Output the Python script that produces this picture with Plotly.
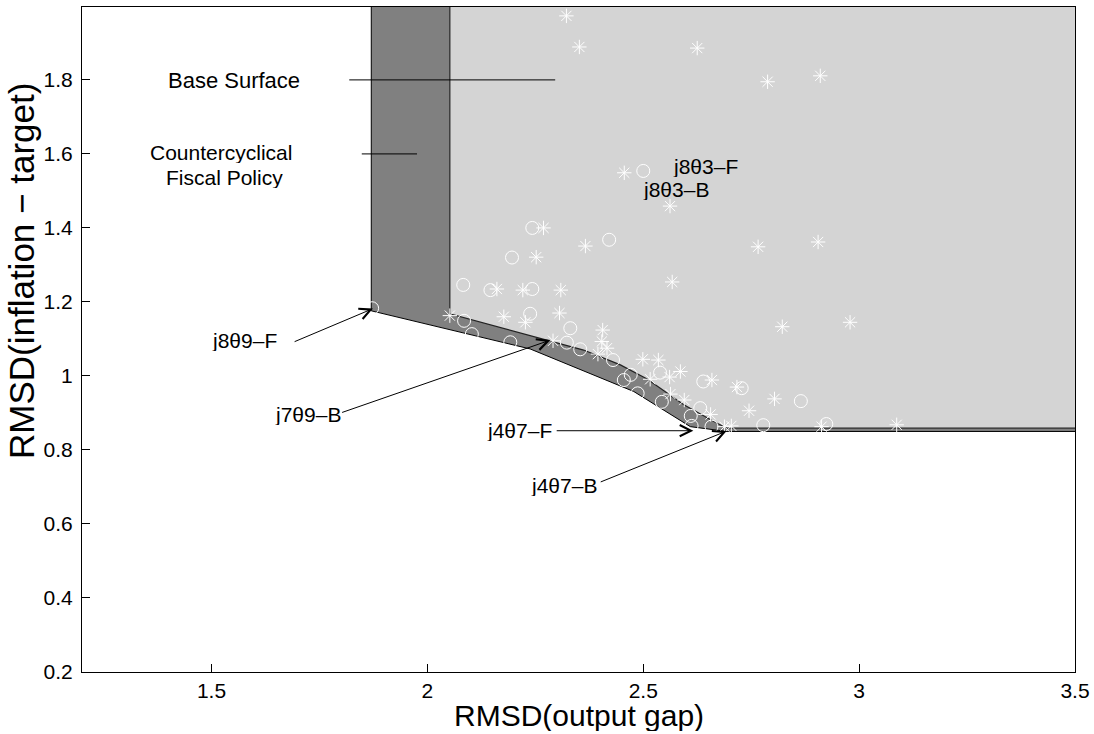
import plotly.graph_objects as go

# ---------------- data ----------------
x_range = [1.2, 3.5]
y_range = [0.2, 1.997]
x_ticks = [1.5, 2, 2.5, 3, 3.5]
x_ticktext = ["1.5", "2", "2.5", "3", "3.5"]
y_ticks = [0.2, 0.4, 0.6, 0.8, 1.0, 1.2, 1.4, 1.6, 1.8]
y_ticktext = ["0.2", "0.4", "0.6", "0.8", "1", "1.2", "1.4", "1.6", "1.8"]
x_title = "RMSD(output gap)"
y_title = "RMSD(inflation − target)"

# frontier with countercyclical fiscal policy (outer, dark region lower edge)
outer_x = [1.870, 1.870, 2.238, 2.478, 2.609, 2.694, 3.6]
outer_y = [2.1, 1.176, 1.073, 0.958, 0.863, 0.850, 0.850]
# base surface frontier (inner, light region lower edge)
inner_x = [2.052, 2.052, 2.362, 2.447, 2.509, 2.594, 2.671, 2.694, 3.6]
inner_y = [2.1, 1.168, 1.070, 1.030, 0.992, 0.922, 0.872, 0.859, 0.859]
top_y = 2.1
right_x = 3.6

circle_x = [2.500, 2.243, 2.421, 2.196, 2.083, 2.146, 2.243, 2.085, 2.238, 2.103,
            2.192, 1.872, 2.331, 2.323, 2.354, 2.430, 2.455, 2.539, 2.471, 2.639,
            2.487, 2.543, 2.632, 2.610, 2.658, 2.728, 2.865, 2.612, 2.778, 2.924]
circle_y = [1.554, 1.400, 1.368, 1.320, 1.246, 1.232, 1.235, 1.149, 1.168, 1.113,
            1.091, 1.183, 1.129, 1.090, 1.072, 1.043, 0.989, 1.009, 1.003, 0.985,
            0.953, 0.930, 0.913, 0.892, 0.863, 0.967, 0.932, 0.865, 0.867, 0.870]

star_x = [2.322, 2.352, 2.625, 2.456, 2.562, 2.269, 2.366, 2.788, 2.910, 2.766,
          2.905, 2.309, 2.567, 2.252, 2.161, 2.221, 2.052, 2.177, 2.227, 2.306,
          2.291, 2.406, 2.404, 2.416, 2.395, 2.499, 2.535, 2.586, 2.561, 2.516,
          2.659, 2.563, 2.595, 2.656, 2.717, 2.804, 2.745, 2.704, 2.913, 3.087,
          2.688, 2.822, 2.979]
star_y = [1.973, 1.889, 1.886, 1.549, 1.459, 1.400, 1.351, 1.795, 1.811, 1.349,
          1.362, 1.232, 1.254, 1.321, 1.235, 1.232, 1.163, 1.160, 1.145, 1.170,
          1.095, 1.124, 1.093, 1.075, 1.059, 1.045, 1.043, 1.012, 0.997, 0.991,
          0.989, 0.951, 0.935, 0.896, 0.970, 0.938, 0.906, 0.865, 0.863, 0.868,
          0.863, 1.133, 1.145]

# labels: (text, x, y, anchor, size)
labels = [
    ("Base Surface", 1.552, 1.800, "center", 22),
    ("Countercyclical", 1.522, 1.603, "center", 21),
    ("Fiscal Policy", 1.530, 1.535, "center", 21),
    ("j8θ9–F", 1.498, 1.097, "left", 21),
    ("j7θ9–B", 1.644, 0.895, "left", 21),
    ("j4θ7–F", 2.291, 0.852, "right", 21),
    ("j4θ7–B", 2.396, 0.703, "right", 21),
    ("j8θ3–F", 2.566, 1.566, "left", 21),
    ("j8θ3–B", 2.497, 1.505, "left", 21),
]
# pointer lines without heads: (x0, y0, x1, y1)
pointer_lines = [
    (1.819, 1.800, 2.296, 1.800),
    (1.848, 1.600, 1.976, 1.600),
]
# arrows: (tail_x, tail_y, tip_x, tip_y)
arrows = [
    (1.689, 1.091, 1.874, 1.182),
    (1.799, 0.900, 2.285, 1.097),
    (2.296, 0.852, 2.616, 0.852),
    (2.398, 0.712, 2.693, 0.851),
]

FONT = "Liberation Sans, Arial, Helvetica, sans-serif"

fig = go.Figure()

dark_x = outer_x + inner_x[::-1]
dark_y = outer_y + inner_y[::-1]
fig.add_trace(go.Scatter(x=dark_x, y=dark_y, fill="toself", fillcolor="#808080",
                         mode="lines", line=dict(width=0), hoverinfo="skip",
                         showlegend=False))
light_x = inner_x + [right_x, inner_x[0]]
light_y = inner_y + [top_y, top_y]
fig.add_trace(go.Scatter(x=light_x, y=light_y, fill="toself", fillcolor="#d4d4d4",
                         mode="lines", line=dict(width=0), hoverinfo="skip",
                         showlegend=False))
fig.add_trace(go.Scatter(x=outer_x, y=outer_y, mode="lines",
                         line=dict(color="black", width=1), hoverinfo="skip",
                         showlegend=False))
fig.add_trace(go.Scatter(x=inner_x, y=inner_y, mode="lines",
                         line=dict(color="#222222", width=1.2), hoverinfo="skip",
                         showlegend=False))

fig.add_trace(go.Scatter(x=circle_x, y=circle_y, mode="markers", name="F",
                         marker=dict(symbol="circle-open", size=13, color="white",
                                     line=dict(color="white", width=1)),
                         showlegend=False))
fig.add_trace(go.Scatter(x=star_x, y=star_y, mode="markers", name="B",
                         marker=dict(symbol="asterisk-open", size=12, color="white",
                                     line=dict(color="white", width=1)),
                         showlegend=False))

for (x0, y0, x1, y1) in pointer_lines:
    fig.add_trace(go.Scatter(x=[x0, x1], y=[y0, y1], mode="lines",
                             line=dict(color="black", width=1), hoverinfo="skip",
                             showlegend=False))

annotations = []
for (t, x, y, anc, sz) in labels:
    annotations.append(dict(text=t, x=x, y=y, xref="x", yref="y", showarrow=False,
                            xanchor=anc, yanchor="middle", height=sz,
                            borderpad=0,
                            font=dict(family=FONT, size=sz, color="black")))
for (tx, ty, hx, hy) in arrows:
    annotations.append(dict(text="", x=hx, y=hy, ax=tx, ay=ty, xref="x", yref="y",
                            axref="x", ayref="y", showarrow=True, arrowhead=5,
                            arrowsize=2.2, arrowwidth=1, arrowcolor="black"))
# axis titles
annotations.append(dict(text=x_title, x=0.5, y=-0.040, xref="paper", yref="paper",
                        showarrow=False, xanchor="center", yanchor="top",
                        height=31, borderpad=0,
                        font=dict(family=FONT, size=30, color="black")))
annotations.append(dict(text=y_title, x=-0.0614, y=0.603, xref="paper", yref="paper",
                        showarrow=False, xanchor="center", yanchor="middle",
                        textangle=-90,
                        font=dict(family=FONT, size=35, color="black")))

fig.update_layout(
    width=1094, height=734, autosize=False,
    margin=dict(l=82, r=19, t=7, b=62, pad=0),
    paper_bgcolor="white", plot_bgcolor="white",
    font=dict(family=FONT, size=21, color="black"),
    annotations=annotations,
    showlegend=False,
)
fig.update_xaxes(range=x_range, tickvals=x_ticks, ticktext=x_ticktext,
                 ticks="inside", ticklen=8, tickcolor="black", showline=True,
                 linecolor="black", linewidth=1, mirror=True, showgrid=False,
                 zeroline=False, tickfont=dict(size=21), automargin=False)
fig.update_yaxes(range=y_range, tickvals=y_ticks, ticktext=y_ticktext,
                 ticks="inside", ticklen=8, tickcolor="black", showline=True,
                 linecolor="black", linewidth=1, mirror=True, showgrid=False,
                 zeroline=False, tickfont=dict(size=21), ticklabelstandoff=4,
                 automargin=False)

fig.write_html("out.html", config={"displayModeBar": False},
               post_script="document.body.style.margin='0';document.body.style.overflow='hidden';")
